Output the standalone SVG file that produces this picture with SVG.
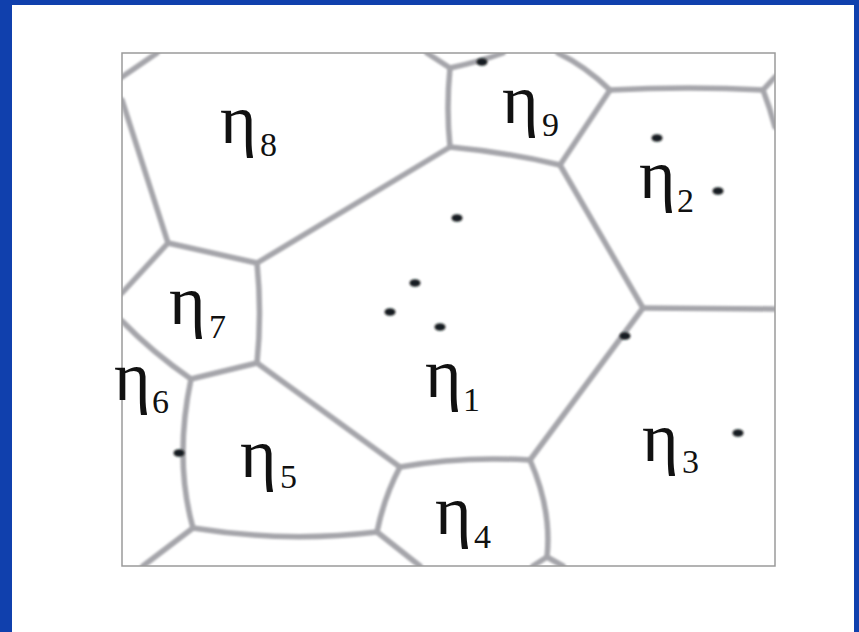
<svg xmlns="http://www.w3.org/2000/svg" width="859" height="632" viewBox="0 0 859 632">
  <style>
    .edge { fill: none; stroke: #a5a5aa; stroke-width: 5.5; stroke-linecap: round; stroke-linejoin: round; }
    .eta { font-family: "Liberation Serif", "Times New Roman", serif; font-size: 70px; fill: #111; }
    .sub { font-family: "Liberation Serif", "Times New Roman", serif; font-size: 34px; fill: #111; }
    .dot { fill: #161b20; }
  </style>
  <defs>
    <filter id="soft" x="-5%" y="-5%" width="110%" height="110%">
      <feGaussianBlur stdDeviation="1.3"/>
    </filter>
    <filter id="softdot" x="-50%" y="-50%" width="200%" height="200%">
      <feGaussianBlur stdDeviation="0.8"/>
    </filter>
    <clipPath id="frameClip">
      <rect x="122" y="53" width="653" height="513"/>
    </clipPath>
  </defs>

  <rect x="0" y="0" width="859" height="632" fill="#1040ad"/>
  <rect x="12" y="5" width="842" height="627" fill="#ffffff"/>

  <g id="connectors" clip-path="url(#frameClip)" filter="url(#soft)">
    <path class="edge" d="M157,53 L122,77"/>
    <path class="edge" d="M122,100 L168,243"/>
    <path class="edge" d="M168,243 L122,293"/>
    <path class="edge" d="M168,243 L257,263"/>
    <path class="edge" d="M257,263 L450,147"/>
    <path class="edge" d="M257,263 Q262,313 257,363"/>
    <path class="edge" d="M257,363 L191,379"/>
    <path class="edge" d="M191,379 Q152,352 122,321"/>
    <path class="edge" d="M191,379 Q174,460 193,528"/>
    <path class="edge" d="M193,528 L143,566"/>
    <path class="edge" d="M193,528 Q285,543 377,532"/>
    <path class="edge" d="M377,532 L420,566"/>
    <path class="edge" d="M377,532 Q384,497 400,467"/>
    <path class="edge" d="M257,363 L400,467"/>
    <path class="edge" d="M400,467 Q460,456 530,460"/>
    <path class="edge" d="M530,460 Q552,510 547,557"/>
    <path class="edge" d="M547,557 L533,566"/>
    <path class="edge" d="M547,557 L563,566"/>
    <path class="edge" d="M530,460 L643,308"/>
    <path class="edge" d="M643,308 L775,309"/>
    <path class="edge" d="M643,308 L560,165"/>
    <path class="edge" d="M560,165 Q505,152 450,147"/>
    <path class="edge" d="M560,165 L610,90"/>
    <path class="edge" d="M610,90 Q690,86 763,90"/>
    <path class="edge" d="M763,90 L775,77"/>
    <path class="edge" d="M763,90 Q770,108 775,127"/>
    <path class="edge" d="M610,90 Q585,66 558,53"/>
    <path class="edge" d="M450,147 Q446,108 450,68"/>
    <path class="edge" d="M450,68 L427,53"/>
    <path class="edge" d="M450,68 Q478,62 503,53"/>
  </g>

  <g id="frame">
    <rect x="122" y="53" width="653" height="513" fill="none" stroke="#9a9a9a" stroke-width="1.5"/>
  </g>

  <g id="dots" filter="url(#softdot)">
    <ellipse class="dot" cx="482" cy="62" rx="5.5" ry="3.8"/>
    <ellipse class="dot" cx="657" cy="138" rx="5.5" ry="3.8"/>
    <ellipse class="dot" cx="718" cy="191" rx="5.5" ry="3.8"/>
    <ellipse class="dot" cx="457" cy="218" rx="5.5" ry="3.8"/>
    <ellipse class="dot" cx="415" cy="283" rx="5.5" ry="3.8"/>
    <ellipse class="dot" cx="390" cy="312" rx="5.5" ry="3.8"/>
    <ellipse class="dot" cx="440" cy="327" rx="5.5" ry="3.8"/>
    <ellipse class="dot" cx="625" cy="336" rx="5.5" ry="3.8"/>
    <ellipse class="dot" cx="738" cy="433" rx="5.5" ry="3.8"/>
    <ellipse class="dot" cx="179" cy="453" rx="5.5" ry="3.8"/>
  </g>

  <g id="node-eta8"><text class="eta" x="220" y="143">η</text><text class="sub" x="260" y="156">8</text></g>
  <g id="node-eta9"><text class="eta" x="502" y="123">η</text><text class="sub" x="542" y="136">9</text></g>
  <g id="node-eta2"><text class="eta" x="639" y="198">η</text><text class="sub" x="677" y="212">2</text></g>
  <g id="node-eta7"><text class="eta" x="169" y="324">η</text><text class="sub" x="209" y="338">7</text></g>
  <g id="node-eta6"><text class="eta" x="114" y="400">η</text><text class="sub" x="152" y="413">6</text></g>
  <g id="node-eta1"><text class="eta" x="425" y="397">η</text><text class="sub" x="463" y="411">1</text></g>
  <g id="node-eta5"><text class="eta" x="240" y="477">η</text><text class="sub" x="280" y="488">5</text></g>
  <g id="node-eta4"><text class="eta" x="435" y="534">η</text><text class="sub" x="474" y="548">4</text></g>
  <g id="node-eta3"><text class="eta" x="642" y="461">η</text><text class="sub" x="682" y="473">3</text></g>
</svg>
